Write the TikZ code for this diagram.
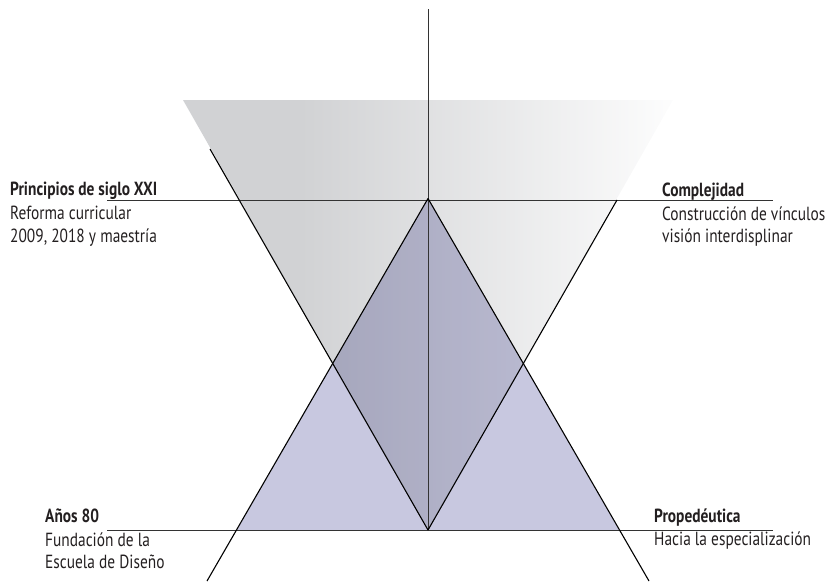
\documentclass[tikz,border=0pt]{standalone}
\usepackage{fontspec}
\setmainfont{PT Sans}[FakeStretch=0.81]
\definecolor{fadegray}{HTML}{D1D2D4}
\definecolor{lilac}{HTML}{C8C8E0}
\definecolor{inkgray}{HTML}{231F20}
\pgfdeclarehorizontalshading{grayfade}{100bp}{color(0bp)=(fadegray); color(37bp)=(fadegray); color(77bp)=(white); color(100bp)=(white)}
\begin{document}
\begin{tikzpicture}[x=1pt,y=-1pt,
  axisline/.style={draw=black!80,line width=0.8pt},
  edgeline/.style={draw=black,line width=1.1pt},
  heading/.style={font=\fontsize{19}{23}\selectfont\bfseries,text=inkgray,inner sep=0pt,anchor=base west},
  detail/.style={font=\fontsize{19}{23}\selectfont,text=inkgray,inner sep=0pt,anchor=base west}]
\useasboundingbox (0,0) rectangle (832,584);

% vertices of the two triangles
\coordinate (tl) at (183,100);
\coordinate (tr) at (673,100);
\coordinate (bot) at (428,530);
\coordinate (apex) at (428,198.5);
\coordinate (bl) at (237,530);
\coordinate (br) at (619,530);

% inverted grey triangle fading to white
\shade[shading=grayfade] (tl) -- (tr) -- (bot) -- cycle;

% upright lilac triangle, multiplied over the grey one
\begin{scope}[blend mode=multiply]
\fill[lilac] (apex) -- (br) -- (bl) -- cycle;
\end{scope}

% axes
\coordinate (vtop) at (428,9);
\coordinate (hl1) at (107,200);
\coordinate (hr1) at (773,200);
\coordinate (hl2) at (107,530);
\coordinate (hr2) at (773,530);
\draw[axisline] (vtop) -- (bot);
\draw[axisline] (hl1) -- (hr1);
\draw[axisline] (hl2) -- (hr2);

% diagonal edges
\coordinate (ulstart) at (210,149);
\coordinate (urstart) at (617,200);
\coordinate (llend) at (207,581);
\coordinate (lrend) at (649,581);
\draw[edgeline] (ulstart) -- (bot);
\draw[edgeline] (urstart) -- (bot);
\draw[edgeline] (apex) -- (llend);
\draw[edgeline] (apex) -- (lrend);

% labels
\node[heading] (p1) at (10,195.5) {Principios de siglo XXI};
\node[detail] (p2) at (10,219.5) {Reforma curricular};
\node[detail] (p3) at (10,242) {2009, 2018 y maestría};

\node[heading] (c1) at (662,196) {Complejidad};
\node[detail] (c2) at (662,220) {Construcción de vínculos};
\node[detail] (c3) at (662,242) {visión interdisplinar};

\node[heading] (a1) at (45,522.5) {Años 80};
\node[detail] (a2) at (45,546.5) {Fundación de la};
\node[detail] (a3) at (45,568.5) {Escuela de Diseño};

\node[heading] (r1) at (654,522.5) {Propedéutica};
\node[detail] (r2) at (654,545) {Hacia la especialización};
\end{tikzpicture}
\end{document}
